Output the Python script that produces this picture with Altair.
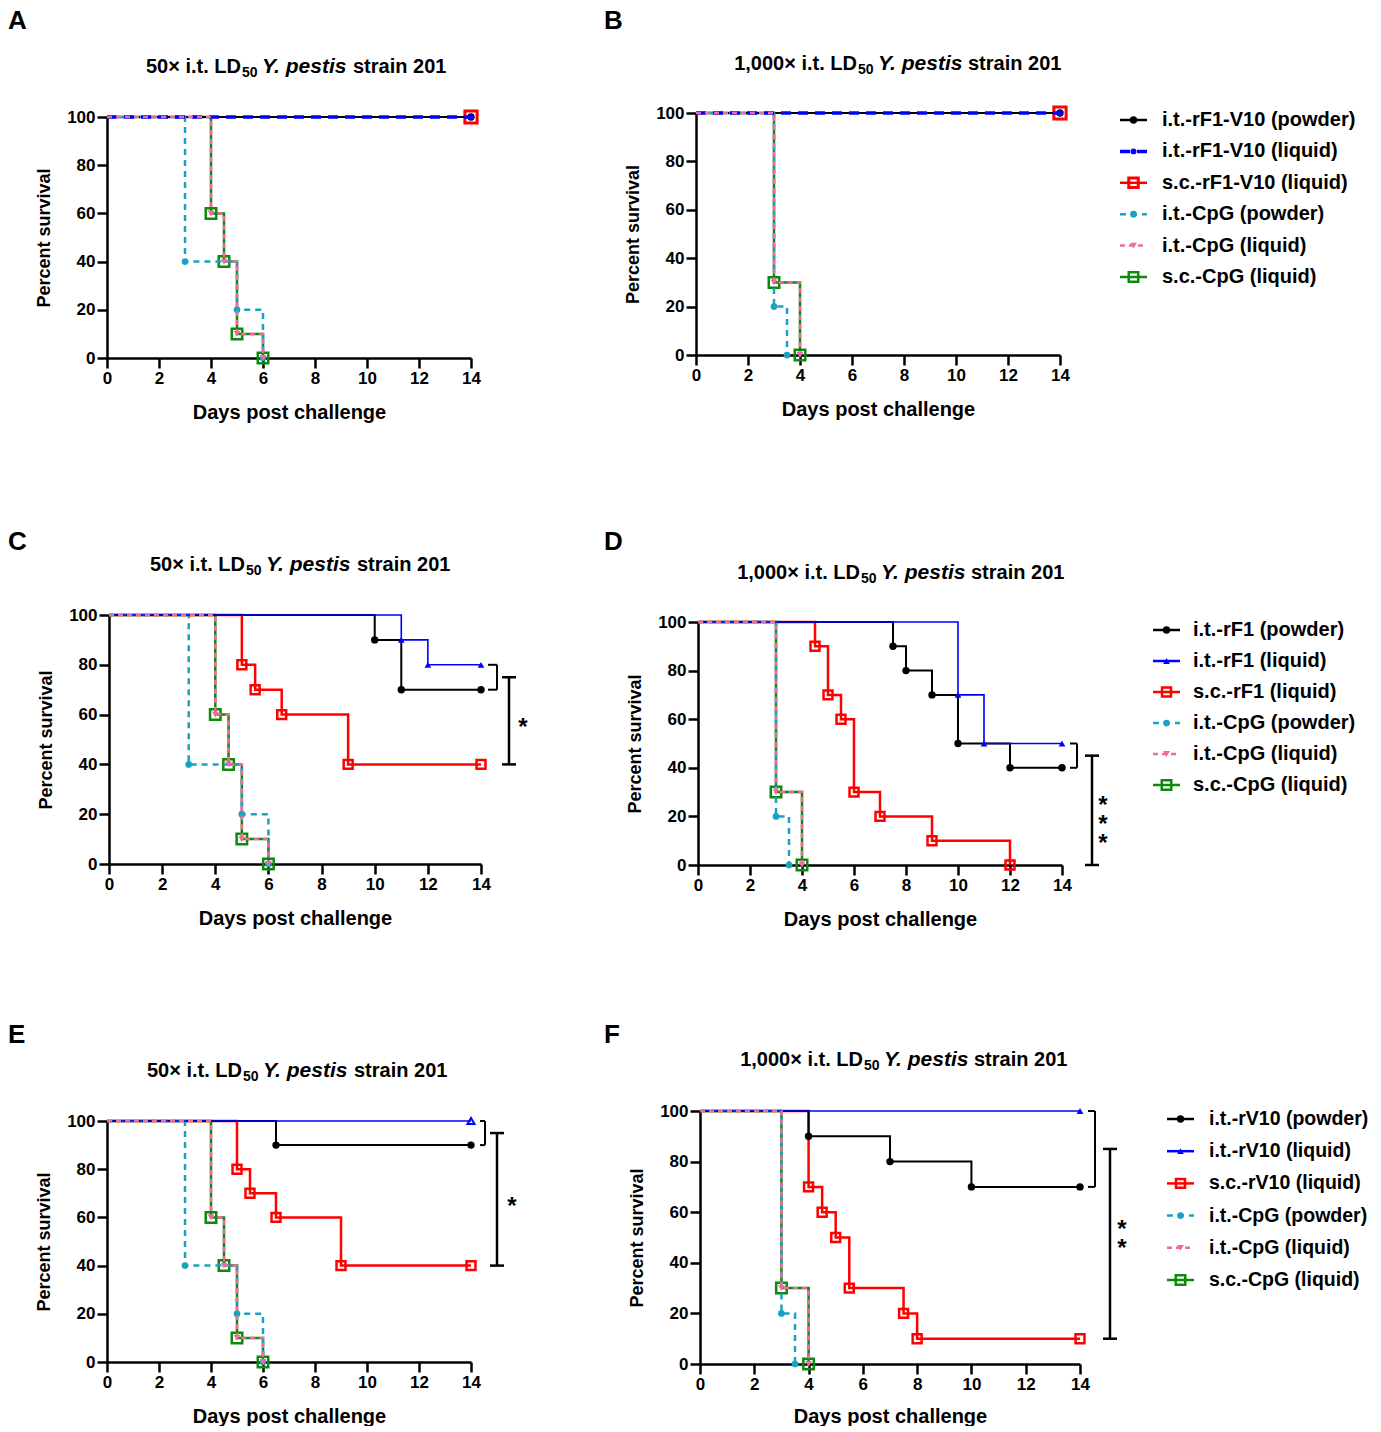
import altair as alt
import pandas as pd

FONT = "Liberation Sans"

# ---------------- data ----------------
DAY_TICKS = [0, 2, 4, 6, 8, 10, 12, 14]
SURV_TICKS = [0, 20, 40, 60, 80, 100]

# groups with no deaths
full_days = [0, 14]
full_surv = [100, 100]

# CpG controls, 50x challenge (A, C, E)
cpg50_powder_days = [0, 3, 5, 6]
cpg50_powder_surv = [100, 40, 20, 0]
cpg50_liquid_days = [0, 4, 4.5, 5, 6]
cpg50_liquid_surv = [100, 60, 40, 10, 0]
cpg50_sc_days = [0, 4, 4.5, 5, 6]
cpg50_sc_surv = [100, 60, 40, 10, 0]

# CpG controls, 1,000x challenge (B, D, F)
cpg1000_powder_days = [0, 3, 3.5]
cpg1000_powder_surv = [100, 20, 0]
cpg1000_liquid_days = [0, 3, 4]
cpg1000_liquid_surv = [100, 30, 0]
cpg1000_sc_days = [0, 3, 4]
cpg1000_sc_surv = [100, 30, 0]

# C: rF1, 50x
c_powder_days = [0, 10, 11, 14]
c_powder_surv = [100, 90, 70, 70]
c_liquid_days = [0, 11, 12, 14]
c_liquid_surv = [100, 90, 80, 80]
c_sc_days = [0, 5, 5.5, 6.5, 9, 14]
c_sc_surv = [100, 80, 70, 60, 40, 40]

# D: rF1, 1,000x
d_powder_days = [0, 7.5, 8, 9, 10, 12, 14]
d_powder_surv = [100, 90, 80, 70, 50, 40, 40]
d_liquid_days = [0, 10, 11, 14]
d_liquid_surv = [100, 70, 50, 50]
d_sc_days = [0, 4.5, 5, 5.5, 6, 7, 9, 12]
d_sc_surv = [100, 90, 70, 60, 30, 20, 10, 0]

# E: rV10, 50x
e_powder_days = [0, 6.5, 14]
e_powder_surv = [100, 90, 90]
e_sc_days = [0, 5, 5.5, 6.5, 9, 14]
e_sc_surv = [100, 80, 70, 60, 40, 40]

# F: rV10, 1,000x
f_powder_days = [0, 4, 7, 10, 14]
f_powder_surv = [100, 90, 80, 70, 70]
f_sc_days = [0, 4, 4.5, 5, 5.5, 7.5, 8, 14]
f_sc_surv = [100, 70, 60, 50, 30, 20, 10, 10]

legend_ab = ["i.t.-rF1-V10 (powder)", "i.t.-rF1-V10 (liquid)", "s.c.-rF1-V10 (liquid)",
             "i.t.-CpG (powder)", "i.t.-CpG (liquid)", "s.c.-CpG (liquid)"]
legend_cd = ["i.t.-rF1 (powder)", "i.t.-rF1 (liquid)", "s.c.-rF1 (liquid)",
             "i.t.-CpG (powder)", "i.t.-CpG (liquid)", "s.c.-CpG (liquid)"]
legend_ef = ["i.t.-rV10 (powder)", "i.t.-rV10 (liquid)", "s.c.-rV10 (liquid)",
             "i.t.-CpG (powder)", "i.t.-CpG (liquid)", "s.c.-CpG (liquid)"]

# ---------------- styles ----------------
STY = {
    "vac_powder": dict(color="#000000", width=2, dash=None, shape="circle", filled=True, size=55, ms=1),
    "vac_liquid_dash": dict(color="#0000ff", width=3.5, dash=[10, 7], shape="circle", filled=True, size=35, ms=1),
    "vac_liquid": dict(color="#0000ff", width=1.6, dash=None, shape="triangle-up", filled=True, size=45, ms=1),
    "vac_liquid_open": dict(color="#0000ff", width=1.6, dash=None, shape="triangle-up", filled=False, size=50, ms=2),
    "vac_sc_big": dict(color="#ff0000", width=2.2, dash=None, shape="square", filled=False, size=150, ms=3),
    "vac_sc": dict(color="#ff0000", width=2.5, dash=None, shape="square", filled=False, size=80, ms=2.5),
    "cpg_powder": dict(color="#1ba1c1", width=2.5, dash=[6, 5], shape="circle", filled=True, size=45, ms=1),
    "cpg_liquid": dict(color="#f06a9e", width=2.5, dash=[5, 4], shape="triangle-down", filled=True, size=45, ms=1),
    "cpg_sc": dict(color="#0d8a0d", width=2.5, dash=None, shape="square", filled=False, size=110, ms=2.5),
}


def xy_enc(xr, yr, yoff, xpad):
    X = alt.X("day:Q", scale=alt.Scale(domain=[0, 14], nice=False, zero=False, range=xr),
              axis=alt.Axis(values=DAY_TICKS, title="Days post challenge", titlePadding=xpad,
                            titleFontSize=20, labelFlush=False, labelOverlap=False))
    Y = alt.Y("surv:Q", scale=alt.Scale(domain=[0, 100], nice=False, range=yr),
              axis=alt.Axis(values=SURV_TICKS, title="Percent survival", titlePadding=13,
                            titleFontSize=18, labelFlush=False, labelOverlap=False, offset=yoff))
    return X, Y


def line_kwargs(st):
    kw = dict(color=st["color"], strokeWidth=st["width"])
    if st["dash"]:
        kw["strokeDash"] = st["dash"]
    return kw


def point_kwargs(st):
    return dict(shape=st["shape"], size=st["size"], color=st["color"], opacity=1,
                filled=st["filled"], strokeWidth=st["ms"])


ONE = pd.DataFrame({"a": [0]})


def txt(text, x, y, size, style="normal", align="left", baseline="middle"):
    return alt.Chart(ONE).mark_text(text=text, font=FONT, fontSize=size, fontWeight="bold",
                                    fontStyle=style, align=align, baseline=baseline,
                                    color="black").encode(x=alt.value(x), y=alt.value(y))


def panel(series, w, h, xr, yr, yoff, letter, letter_xy, prefix, title_xy, offs,
          small=None, big=None, stars=None, star_x=None, legend=None, xpad=16):
    X, Y = xy_enc(xr, yr, yoff, xpad)
    layers = []
    for days, surv, key in series:
        st = STY[key]
        df = pd.DataFrame({"day": days, "surv": surv})
        layers.append(alt.Chart(df).mark_line(interpolate="step-after", **line_kwargs(st))
                      .encode(x=X, y=Y))
        layers.append(alt.Chart(df.iloc[1:]).mark_point(**point_kwargs(st)).encode(x=X, y=Y))
    # significance brackets
    if small:
        x1, x2, ya, yb = small
        for yy in (ya, yb):
            layers.append(alt.Chart(pd.DataFrame({"surv": [yy]})).mark_rule(color="black", strokeWidth=2)
                          .encode(x=alt.value(x1), x2=alt.value(x2), y=Y))
        layers.append(alt.Chart(pd.DataFrame({"surv": [ya], "surv2": [yb]})).mark_rule(color="black", strokeWidth=2)
                      .encode(x=alt.value(x2), y=Y, y2="surv2:Q"))
    if big:
        xc, hw, ya, yb = big
        for yy in (ya, yb):
            layers.append(alt.Chart(pd.DataFrame({"surv": [yy]})).mark_rule(color="black", strokeWidth=2.5)
                          .encode(x=alt.value(xc - hw), x2=alt.value(xc + hw), y=Y))
        layers.append(alt.Chart(pd.DataFrame({"surv": [ya], "surv2": [yb]})).mark_rule(color="black", strokeWidth=2.5)
                      .encode(x=alt.value(xc), y=Y, y2="surv2:Q"))
    if stars:
        n, sy = stars
        layers.append(alt.Chart(pd.DataFrame({"surv": [sy]})).mark_text(
            text=["*"] * n, lineHeight=19, font=FONT, fontSize=24, fontWeight="bold", color="black",
            align="center", baseline="middle", dy=6 if n == 1 else -6).encode(x=alt.value(star_x), y=Y))
    # panel letter and title (title: prefix right-aligned at the end of "LD")
    layers.append(txt(letter, letter_xy[0], letter_xy[1], 26, baseline="top"))
    tx, ty = title_xy
    layers.append(txt(prefix, tx + offs[0], ty, 20, align="right"))
    layers.append(txt("50", tx + offs[0] + 1, ty + 6, 14))
    layers.append(txt("Y. pestis", tx + offs[1], ty, 21, style="italic"))
    layers.append(txt("strain 201", tx + offs[2], ty, 20))
    # legend drawn to the right of the panel
    if legend:
        labels, keys, lx, ly0, step, tdx, fsz = legend
        for i, (lab, key) in enumerate(zip(labels, keys)):
            st = STY[key]
            yy = ly0 + i * step
            lk = line_kwargs(st)
            lk["strokeWidth"] = max(st["width"], 2.5)
            layers.append(alt.Chart(ONE).mark_rule(**lk)
                          .encode(x=alt.value(lx), x2=alt.value(lx + 27), y=alt.value(yy)))
            pk = point_kwargs(st)
            pk["size"] = min(st["size"], 90)
            layers.append(alt.Chart(ONE).mark_point(**pk)
                          .encode(x=alt.value(lx + 13.5), y=alt.value(yy)))
            layers.append(alt.Chart(ONE).mark_text(text=lab, font=FONT, fontSize=fsz, fontWeight="bold",
                                                   color="black", align="left", baseline="middle")
                          .encode(x=alt.value(lx + tdx), y=alt.value(yy)))
    return alt.layer(*layers).properties(width=w, height=h)


OFF50 = [97, 118, 209]
OFF1000 = [124, 145, 235]

keys_ab = ["vac_powder", "vac_liquid_dash", "vac_sc_big", "cpg_powder", "cpg_liquid", "cpg_sc"]
keys_rest = ["vac_powder", "vac_liquid", "vac_sc", "cpg_powder", "cpg_liquid", "cpg_sc"]

A = panel([
    (full_days, full_surv, "vac_sc_big"),
    (cpg50_sc_days, cpg50_sc_surv, "cpg_sc"),
    (full_days, full_surv, "vac_powder"),
    (cpg50_powder_days, cpg50_powder_surv, "cpg_powder"),
    (full_days, full_surv, "vac_liquid_dash"),
    (cpg50_liquid_days, cpg50_liquid_surv, "cpg_liquid"),
], 364, 245, [0, 364], [245, 4], 0, "A", (-99, -105), "50× i.t. LD", (37, -46), OFF50)

B = panel([
    (full_days, full_surv, "vac_sc_big"),
    (cpg1000_sc_days, cpg1000_sc_surv, "cpg_sc"),
    (full_days, full_surv, "vac_powder"),
    (cpg1000_powder_days, cpg1000_powder_surv, "cpg_powder"),
    (full_days, full_surv, "vac_liquid_dash"),
    (cpg1000_liquid_days, cpg1000_liquid_surv, "cpg_liquid"),
], 364, 242, [0, 364], [242, 0], 0, "B", (-92, -105), "1,000× i.t. LD", (37, -49), OFF1000,
    legend=(legend_ab, keys_ab, 424, 7, 31.4, 42, 20))

C = panel([
    (c_sc_days, c_sc_surv, "vac_sc"),
    (cpg50_sc_days, cpg50_sc_surv, "cpg_sc"),
    (c_powder_days, c_powder_surv, "vac_powder"),
    (cpg50_powder_days, cpg50_powder_surv, "cpg_powder"),
    (c_liquid_days, c_liquid_surv, "vac_liquid"),
    (cpg50_liquid_days, cpg50_liquid_surv, "cpg_liquid"),
], 374, 260, [2, 374], [260, 11], -2, "C", (-99, -75), "50× i.t. LD", (41, -39), OFF50,
    small=(381, 390, 80, 70), big=(402, 7, 75, 40), stars=(1, 57), star_x=416)

D = panel([
    (d_sc_days, d_sc_surv, "vac_sc"),
    (cpg1000_sc_days, cpg1000_sc_surv, "cpg_sc"),
    (d_powder_days, d_powder_surv, "vac_powder"),
    (cpg1000_powder_days, cpg1000_powder_surv, "cpg_powder"),
    (d_liquid_days, d_liquid_surv, "vac_liquid"),
    (cpg1000_liquid_days, cpg1000_liquid_surv, "cpg_liquid"),
], 366, 261, [2, 366], [261, 18], -2, "D", (-92, -75), "1,000× i.t. LD", (40, -31), OFF1000,
    small=(374, 381, 50, 40), big=(396, 7, 45, 0), stars=(3, 21.8), star_x=407,
    legend=(legend_cd, keys_rest, 457, 26, 31, 40, 20))

E = panel([
    (e_sc_days, e_sc_surv, "vac_sc"),
    (cpg50_sc_days, cpg50_sc_surv, "cpg_sc"),
    (e_powder_days, e_powder_surv, "vac_powder"),
    (cpg50_powder_days, cpg50_powder_surv, "cpg_powder"),
    (full_days, full_surv, "vac_liquid_open"),
    (cpg50_liquid_days, cpg50_liquid_surv, "cpg_liquid"),
], 364, 251, [0, 364], [251, 10], 0, "E", (-99, -89), "50× i.t. LD", (38, -40), OFF50,
    small=(373, 378, 100, 90), big=(390, 7, 95, 40), stars=(1, 67), star_x=405)

F = panel([
    (f_sc_days, f_sc_surv, "vac_sc"),
    (cpg1000_sc_days, cpg1000_sc_surv, "cpg_sc"),
    (f_powder_days, f_powder_surv, "vac_powder"),
    (cpg1000_powder_days, cpg1000_powder_surv, "cpg_powder"),
    (full_days, full_surv, "vac_liquid"),
    (cpg1000_liquid_days, cpg1000_liquid_surv, "cpg_liquid"),
], 384, 253, [4, 384], [253, 0], -4, "F", (-92, -89), "1,000× i.t. LD", (43, -51), OFF1000,
    small=(392, 399, 100, 70), big=(414, 7, 85, 10), stars=(2, 50.75), star_x=426,
    legend=(legend_ef, keys_rest, 471, 8, 32.2, 42, 19.5), xpad=14)

chart = alt.concat(A, B, C, D, E, F, columns=2, spacing={"row": 246, "column": 215},
                   bounds="flush", align="each").properties(padding=0).configure_view(
    stroke=None
).configure_axis(
    domainColor="black", domainWidth=2.5, tickColor="black", tickWidth=2.5, tickSize=10,
    labelFont=FONT, labelFontSize=17, labelFontWeight="bold", labelColor="black", labelPadding=2,
    titleFont=FONT, titleFontWeight="bold", titleColor="black", grid=False
)

chart.save("out.html", embed_options={"renderer": "svg", "actions": False})
